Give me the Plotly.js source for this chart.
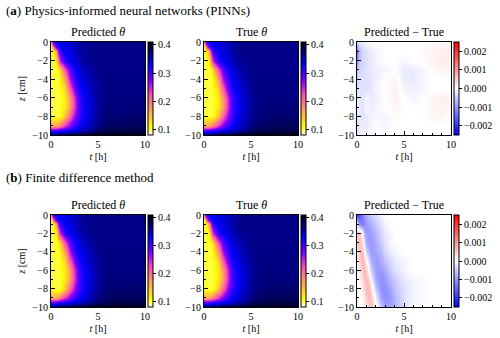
<!DOCTYPE html>
<html>
<head>
<meta charset="utf-8">
<script src="https://cdn.plot.ly/plotly-3.0.1.min.js"></script>
<style>
  html, body { margin: 0; padding: 0; background: #fff; }
  #plot { width: 500px; height: 338px; }
</style>
</head>
<body>
<div id="plot"></div>
<script>
// grid for the water content field (t in hours, z in cm)
var tTheta = [0, 0.25, 0.5, 0.75, 1, 1.5, 2, 2.5, 3, 3.5, 4, 5, 6, 8, 10];
var zTheta = [0, -0.5, -1, -2, -3, -4, -5, -6, -7, -8, -9, -9.5, -10];

var thetaTrue = [
  [0.20, 0.31, 0.325, 0.33, 0.332, 0.336, 0.342, 0.35, 0.357, 0.362, 0.365, 0.366, 0.366, 0.366, 0.366],
  [0.10, 0.20, 0.29, 0.32, 0.328, 0.334, 0.34, 0.348, 0.356, 0.362, 0.365, 0.366, 0.366, 0.366, 0.366],
  [0.10, 0.11, 0.17, 0.26, 0.31, 0.33, 0.338, 0.346, 0.355, 0.362, 0.365, 0.366, 0.366, 0.366, 0.366],
  [0.10, 0.10, 0.115, 0.19, 0.25, 0.315, 0.332, 0.34, 0.35, 0.358, 0.363, 0.366, 0.366, 0.366, 0.366],
  [0.10, 0.10, 0.10, 0.11, 0.135, 0.22, 0.29, 0.325, 0.338, 0.348, 0.356, 0.365, 0.366, 0.366, 0.366],
  [0.10, 0.10, 0.10, 0.10, 0.115, 0.17, 0.26, 0.31, 0.33, 0.34, 0.35, 0.363, 0.367, 0.367, 0.367],
  [0.10, 0.10, 0.10, 0.10, 0.105, 0.135, 0.215, 0.285, 0.318, 0.333, 0.345, 0.362, 0.367, 0.367, 0.367],
  [0.10, 0.10, 0.10, 0.10, 0.10, 0.12, 0.175, 0.25, 0.305, 0.325, 0.339, 0.36, 0.368, 0.368, 0.368],
  [0.10, 0.10, 0.10, 0.10, 0.10, 0.12, 0.17, 0.245, 0.30, 0.323, 0.338, 0.36, 0.369, 0.37, 0.37],
  [0.105, 0.10, 0.10, 0.10, 0.105, 0.145, 0.21, 0.27, 0.305, 0.327, 0.341, 0.362, 0.372, 0.374, 0.374],
  [0.17, 0.165, 0.17, 0.18, 0.20, 0.24, 0.28, 0.31, 0.325, 0.338, 0.348, 0.368, 0.378, 0.381, 0.381],
  [0.29, 0.29, 0.29, 0.30, 0.305, 0.315, 0.325, 0.335, 0.345, 0.352, 0.361, 0.378, 0.384, 0.387, 0.387],
  [0.38, 0.38, 0.38, 0.38, 0.38, 0.385, 0.39, 0.39, 0.39, 0.392, 0.395, 0.397, 0.398, 0.40, 0.40]
];

// PINN error field
var tPinnErr = [0, 0.25, 0.5, 1, 1.5, 2, 3, 4, 5, 6, 7, 8, 9, 10];
var zErr = [0, -1, -2, -3, -4, -5, -6, -7, -8, -9, -10];
var pinnErr = [
  [-0.0005, -0.0003, -0.0002, -0.0001, 0, 0, 0, 0, 0, 0, 0, 0.00005, 0.0001, 0.0001],
  [-0.0013, -0.0007, -0.0004, -0.0003, -0.0002, -0.0001, 0, 0, 0, 0, 0.00005, 0.0001, 0.00015, 0.00015],
  [-0.001, -0.0006, -0.0004, -0.0003, -0.0002, -0.0001, 0, 0, -0.0001, 0, 0.00005, 0.0001, 0.0002, 0.00015],
  [-0.0006, -0.0004, -0.0004, -0.0003, -0.0002, -0.00015, -0.0001, 0, -0.0002, -0.0002, -0.0001, 0.00005, 0.0001, 0.0001],
  [-0.0004, -0.0003, -0.0003, -0.0003, -0.00025, -0.00015, 0, 0.0001, -0.0002, -0.0002, -0.0001, 0, 0, 0],
  [-0.0003, -0.0003, -0.0003, -0.0003, -0.00025, -0.0001, 0, 0.00015, -0.0001, -0.00015, -0.0001, 0, 0, 0],
  [-0.0002, -0.0002, -0.0003, -0.0001, -0.0002, -0.00015, 0, 0.00015, 0, -0.0001, 0, 0.0001, 0.00015, 0.0001],
  [-0.0001, -0.0002, -0.0003, -0.0001, -0.0002, -0.0001, 0, 0.0001, 0, 0, 0, 0.0001, 0.00015, 0.0001],
  [-0.0002, -0.0002, -0.0003, -0.0002, -0.0001, -0.0001, -0.0001, 0.00005, 0, 0, 0, 0.0001, 0.0001, 0],
  [-0.0003, -0.0002, -0.0002, -0.0002, -0.0001, 0, -0.0001, 0, 0, 0, 0, 0, 0, 0],
  [-0.0003, -0.0002, -0.0001, -0.0001, 0, 0, -0.0001, 0, 0, 0, 0, 0, 0, 0]
];

// finite difference error field
var tFdmErr = [0, 0.25, 0.5, 0.75, 1, 1.25, 1.5, 2, 2.5, 3, 3.5, 4, 5, 6, 8, 10];
var fdmErr = [
  [-0.0019, -0.0017, -0.0013, -0.001, -0.0008, -0.0006, -0.0005, -0.0003, -0.0001, 0, 0, 0, 0, 0, 0, 0],
  [-0.0003, -0.0011, -0.0013, -0.0012, -0.001, -0.0009, -0.0008, -0.0005, -0.0003, -0.0001, 0, 0, 0, 0, 0, 0],
  [0.0005, 0.0006, 0.0001, -0.0007, -0.001, -0.001, -0.0009, -0.0007, -0.0004, -0.0002, -0.0001, 0, 0, 0, 0, 0],
  [0.0004, 0.0007, 0.0004, -0.0003, -0.0008, -0.001, -0.001, -0.0008, -0.0005, -0.0003, -0.0001, 0, 0, 0, 0, 0],
  [0.0002, 0.0006, 0.0007, 0.0002, -0.0004, -0.0008, -0.001, -0.0009, -0.0007, -0.0004, -0.0002, -0.0001, 0, 0, 0, 0],
  [0.0001, 0.0004, 0.0007, 0.0006, 0.0001, -0.0004, -0.0008, -0.001, -0.0008, -0.0006, -0.0004, -0.0002, -0.0001, 0, 0, 0],
  [0, 0.0002, 0.0005, 0.0007, 0.0005, 0, -0.0005, -0.001, -0.001, -0.0008, -0.0005, -0.0003, -0.0001, 0, 0, 0],
  [0, 0.0001, 0.0003, 0.0006, 0.0007, 0.0004, -0.0001, -0.0009, -0.0011, -0.001, -0.0007, -0.0005, -0.0002, -0.0001, 0, 0],
  [0, 0, 0.0002, 0.0004, 0.0007, 0.0007, 0.0003, -0.0006, -0.0011, -0.0011, -0.0009, -0.0006, -0.0003, -0.0001, 0, 0],
  [0, 0, 0.0001, 0.0002, 0.0005, 0.0007, 0.0006, -0.0002, -0.0009, -0.0011, -0.001, -0.0007, -0.0003, -0.0001, 0, 0],
  [0, 0, 0, 0.0001, 0.0003, 0.0005, 0.0006, 0.0001, -0.0006, -0.0009, -0.0009, -0.0007, -0.0003, -0.0001, 0, 0]
];

var thetaTicks = [0.1, 0.2, 0.3, 0.4];
var errTicks = [-0.002, -0.001, 0, 0.001, 0.002];
var panelTitles = ["Predicted <i>θ</i>", "True <i>θ</i>", "Predicted − True"];

// matplotlib gnuplot2_r and bwr
var gnuplot2r = [
  [0, "rgb(255,255,255)"], [0.08, "rgb(255,255,0)"], [0.4375, "rgb(255,73,182)"],
  [0.58, "rgb(135,0,255)"], [0.756, "rgb(0,0,249)"], [1, "rgb(0,0,0)"]
];
var bwr = [[0, "rgb(0,0,255)"], [0.5, "rgb(255,255,255)"], [1, "rgb(255,0,0)"]];

var font = "Liberation Serif";
var colX = [[51, 145], [204, 298], [357, 451]];
var rowY = [[42, 135], [215, 307]];
var W = 500, H = 338;

function cbar(col, row, ticks, fmt) {
  var yc = 1 - (rowY[row][0] + rowY[row][1]) / 2 / H;
  return {
    x: (colX[col][1] + 3) / W, xanchor: "left", xpad: 0, ypad: 0,
    y: yc, yanchor: "middle", len: rowY[row][1] - rowY[row][0], lenmode: "pixels",
    thickness: 5, outlinewidth: 1, outlinecolor: "#000",
    tickvals: ticks, tickformat: fmt, ticks: "outside", ticklen: 3, tickcolor: "#000",
    tickfont: {family: font, size: 10, color: "#000"}
  };
}

function heat(col, row, x, y, z, scale, lo, hi, ticks, fmt) {
  var n = row * 3 + col + 1;
  return {
    type: "heatmap", x: x, y: y, z: z, zsmooth: "best",
    colorscale: scale, zmin: lo, zmax: hi,
    xaxis: "x" + (n === 1 ? "" : n), yaxis: "y" + (n === 1 ? "" : n),
    colorbar: cbar(col, row, ticks, fmt), hoverinfo: "skip"
  };
}

var data = [
  heat(0, 0, tTheta, zTheta, thetaTrue, gnuplot2r, 0.08, 0.41, thetaTicks, ".1f"),
  heat(1, 0, tTheta, zTheta, thetaTrue, gnuplot2r, 0.08, 0.41, thetaTicks, ".1f"),
  heat(2, 0, tPinnErr, zErr, pinnErr, bwr, -0.0025, 0.0025, errTicks, ".3f"),
  heat(0, 1, tTheta, zTheta, thetaTrue, gnuplot2r, 0.08, 0.41, thetaTicks, ".1f"),
  heat(1, 1, tTheta, zTheta, thetaTrue, gnuplot2r, 0.08, 0.41, thetaTicks, ".1f"),
  heat(2, 1, tFdmErr, zErr, fdmErr, bwr, -0.0025, 0.0025, errTicks, ".3f")
];

var layout = {
  width: W, height: H, margin: {l: 0, r: 0, t: 0, b: 0},
  paper_bgcolor: "#fff", plot_bgcolor: "#fff", showlegend: false,
  font: {family: font, size: 10, color: "#000"},
  annotations: []
};

for (var row = 0; row < 2; row++) {
  for (var col = 0; col < 3; col++) {
    var n = row * 3 + col + 1;
    var sfx = n === 1 ? "" : n;
    layout["xaxis" + sfx] = {
      domain: [colX[col][0] / W, colX[col][1] / W], anchor: "y" + sfx,
      range: [0, 10], tickvals: [0, 5, 10], ticks: "inside", ticklen: 4, tickcolor: "#000",
      minor: {dtick: 1, ticks: "inside", ticklen: 2, tickcolor: "#000"},
      showline: true, linecolor: "#000", linewidth: 1, mirror: true,
      showgrid: false, zeroline: false, fixedrange: true,
      tickfont: {family: font, size: 10},
      title: {text: "<i>t</i> [h]", font: {family: font, size: 10}, standoff: 3}
    };
    layout["yaxis" + sfx] = {
      domain: [1 - rowY[row][1] / H, 1 - rowY[row][0] / H], anchor: "x" + sfx,
      range: [-10, 0], tickvals: [0, -2, -4, -6, -8, -10], ticks: "inside", ticklen: 4, tickcolor: "#000",
      minor: {dtick: 1, ticks: "inside", ticklen: 2, tickcolor: "#000"},
      showline: true, linecolor: "#000", linewidth: 1, mirror: true,
      showgrid: false, zeroline: false, fixedrange: true,
      tickfont: {family: font, size: 10},
      title: col === 0 ? {text: "<i>z</i> [cm]", font: {family: font, size: 10}, standoff: 4} : {text: ""}
    };
    layout.annotations.push({
      text: panelTitles[col], xref: "paper", yref: "paper", showarrow: false,
      x: (colX[col][0] + colX[col][1]) / 2 / W, y: 1 - (rowY[row][0] - 10) / H,
      xanchor: "center", yanchor: "middle", font: {family: font, size: 12}
    });
  }
}

layout.annotations.push({
  text: "(<b>a</b>) Physics-informed neural networks (PINNs)", xref: "paper", yref: "paper",
  x: 4 / W, y: 1 - 10 / H, xanchor: "left", yanchor: "middle", showarrow: false,
  font: {family: font, size: 13}
});
layout.annotations.push({
  text: "(<b>b</b>) Finite difference method", xref: "paper", yref: "paper",
  x: 4 / W, y: 1 - 177 / H, xanchor: "left", yanchor: "middle", showarrow: false,
  font: {family: font, size: 13}
});

Plotly.newPlot("plot", data, layout, {displayModeBar: false, staticPlot: true});
</script>
</body>
</html>
